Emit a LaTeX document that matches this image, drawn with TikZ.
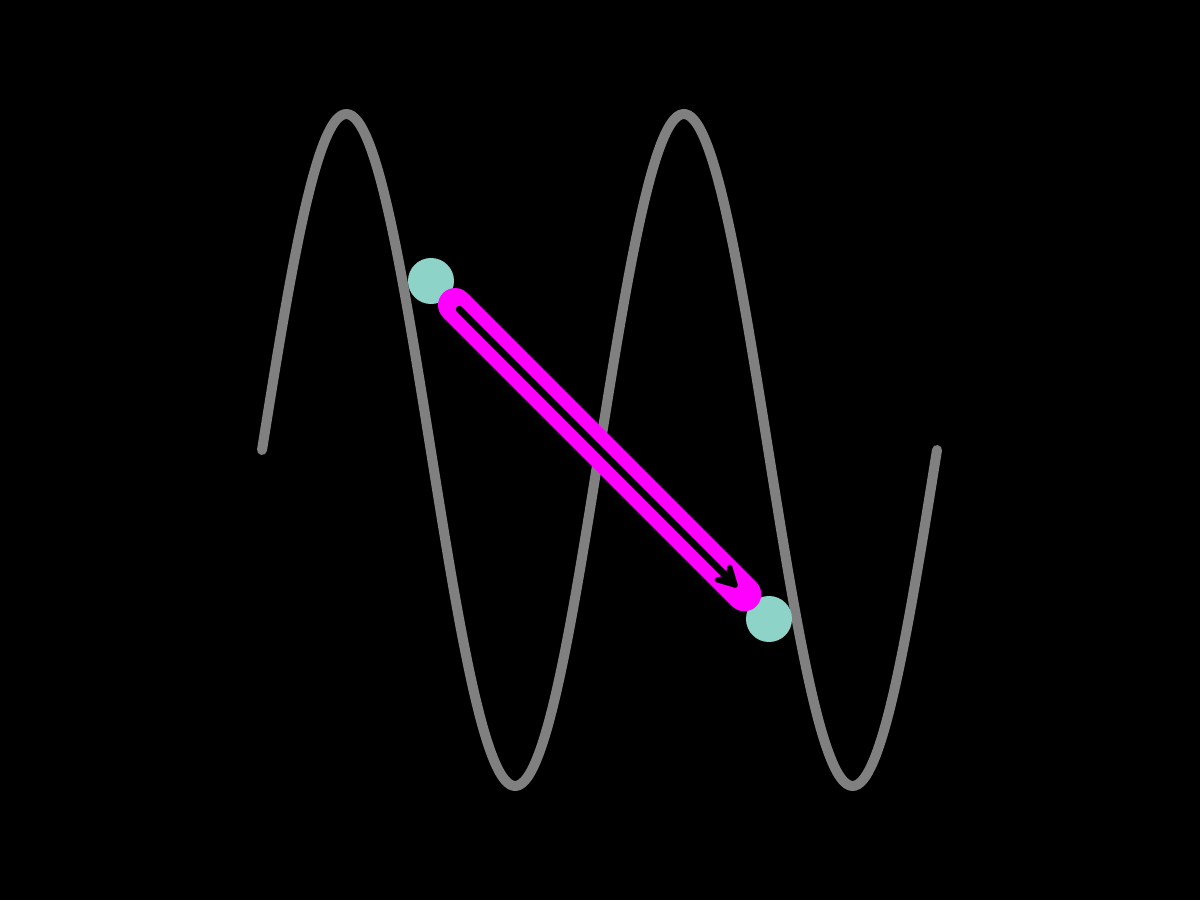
\documentclass[tikz,border=0pt]{standalone}
\usepackage{tikz}
\usetikzlibrary{arrows.meta,positioning,calc}
\definecolor{wavegray}{RGB}{128,128,128}
\definecolor{dotteal}{RGB}{141,211,199}
\definecolor{bandpink}{RGB}{255,0,255}
\tikzset{
    wave/.style={line width=1mm, wavegray, line cap=round, line join=round},
    dot/.style={circle, fill=dotteal, inner sep=0pt, minimum size=4.6mm},
    band/.style={line width=3.4mm, bandpink, line cap=round},
    inner/.style={line width=0.7mm, black, line cap=round, -{Stealth[length=2.9mm, width=3.1mm, inset=1mm, round]}},
}
\begin{document}
\begin{tikzpicture}[x=0.01cm, y=-0.01cm]
    \fill[black] (0,0) rectangle (1200,900);
    \useasboundingbox (0,0) rectangle (1200,900);

    % the sine wave
    \draw[wave] plot[domain=0:675, samples=240, smooth] ({262+\x}, {450-336*sin(1.066667*\x)});

    \node[dot] (p) at (431,281) {};
    \node[dot] (q) at (769,619) {};

    \draw[band, shorten <=0.34cm, shorten >=0.35cm] (p.center) -- (q.center);
    \draw[inner, shorten <=0.40cm, shorten >=0.45cm] (p.center) -- (q.center);
\end{tikzpicture}
\end{document}
